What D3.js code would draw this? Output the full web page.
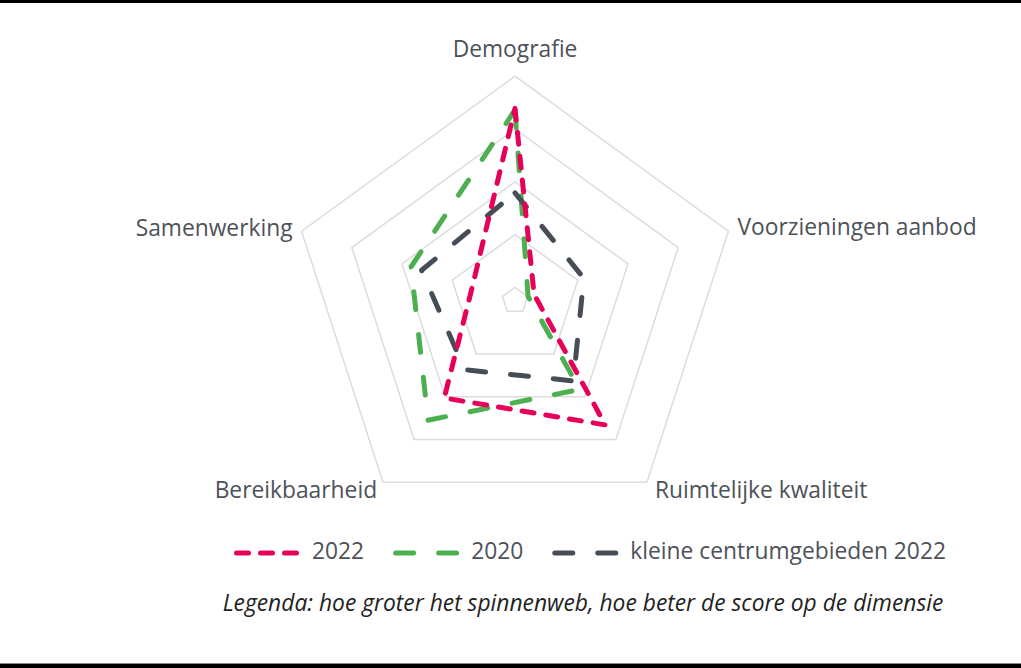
<!DOCTYPE html>
<html>
<head>
<meta charset="utf-8">
<script src="https://d3js.org/d3.v7.min.js"></script>
<style>
  body { margin: 0; background: #fff; }
  text { font-family: "Open Sans", "Noto Sans", sans-serif; fill: #4d5259; }
</style>
</head>
<body>
<svg width="1021" height="668"></svg>
<script>
// axes clockwise from the top
var axes   = ["Demografie", "Voorzieningen aanbod", "Ruimtelijke kwaliteit", "Bereikbaarheid", "Samenwerking"];
var s2022  = [4.39, 1.13, 3.66, 3.03, 1.60];
var s2020  = [4.36, 1.01, 2.83, 3.55, 2.82];
var kleine = [2.79, 2.12, 2.63, 2.37, 2.61];
var rings  = [1, 2, 3, 4, 5];
var legendLabels = ["2022", "2020", "kleine centrumgebieden 2022"];
var caption = "Legenda: hoe groter het spinnenweb, hoe beter de score op de dimensie";

var svg = d3.select("svg"),
    cx = 515, cy = 300.6,
    fs = "22.8px";

var r = d3.scaleLinear().domain([0.75, 5]).range([0, 224.4]);
var angle = d3.scaleLinear().domain([0, axes.length]).range([0, 2 * Math.PI]);

function pt(i, v) {
  var a = angle(i);
  return [cx + r(v) * Math.sin(a), cy - r(v) * Math.cos(a)];
}

// frame lines
svg.append("rect").attr("x", 0).attr("y", 0).attr("width", 1021).attr("height", 3).attr("fill", "#000");
svg.append("rect").attr("x", 0).attr("y", 663).attr("width", 1021).attr("height", 1).attr("fill", "#888");
svg.append("rect").attr("x", 0).attr("y", 664).attr("width", 1021).attr("height", 4).attr("fill", "#000");

var g = svg.append("g");
var line = d3.line().curve(d3.curveLinearClosed);

g.selectAll(".ring")
  .data(rings)
  .enter().append("path")
  .attr("class", "ring")
  .attr("d", function(v) { return line(axes.map(function(_, i) { return pt(i, v); })); })
  .attr("fill", "none")
  .attr("stroke", "#dcdcdc")
  .attr("stroke-width", 1.5);

var series = [
  { name: legendLabels[1], values: s2020,  color: "#4caf50", dash: "18,25" },
  { name: legendLabels[2], values: kleine, color: "#474d57", dash: "18,25" },
  { name: legendLabels[0], values: s2022,  color: "#e6005a", dash: "12,12" }
];

g.selectAll(".series")
  .data(series)
  .enter().append("path")
  .attr("class", "series")
  .attr("d", function(d) { return line(d.values.map(function(v, i) { return pt(i, v); })); })
  .attr("fill", "none")
  .attr("stroke", function(d) { return d.color; })
  .attr("stroke-width", 5)
  .attr("stroke-linecap", "round")
  .attr("stroke-linejoin", "round")
  .attr("stroke-dasharray", function(d) { return d.dash; });

// axis labels, placed just outside the outer ring
var labelMax = 5;
axes.forEach(function(name, i) {
  var p = pt(i, labelMax), t = g.append("text").text(name).style("font-size", fs);
  if (i === 0) {
    t.attr("x", p[0]).attr("y", p[1] - 19).attr("text-anchor", "middle");
  } else if (i === 1) {
    t.attr("x", p[0] + 9).attr("y", p[1] - 2).attr("text-anchor", "start").attr("dominant-baseline", "middle");
  } else if (i === 4) {
    t.attr("x", p[0] - 9).attr("y", p[1] - 1).attr("text-anchor", "end").attr("dominant-baseline", "middle");
  } else if (i === 2) {
    t.attr("x", p[0] + 8).attr("y", p[1] + 10).attr("text-anchor", "start").attr("dominant-baseline", "middle");
  } else {
    t.attr("x", p[0] - 6).attr("y", p[1] + 10).attr("text-anchor", "end").attr("dominant-baseline", "middle");
  }
});

// legend
var legendOrder = [series[2], series[0], series[1]];
var lx = 234, ly = 553;
legendOrder.forEach(function(d) {
  svg.append("line")
    .attr("x1", lx + 2.5).attr("x2", lx + 64).attr("y1", ly).attr("y2", ly)
    .attr("stroke", d.color).attr("stroke-width", 5)
    .attr("stroke-linecap", "round")
    .attr("stroke-dasharray", d.dash);
  var t = svg.append("text")
    .attr("x", lx + 78).attr("y", ly)
    .attr("dominant-baseline", "middle")
    .style("font-size", fs)
    .text(d.name);
  lx += 78 + t.node().getComputedTextLength() + 29;
});

svg.append("text")
  .attr("x", 583).attr("y", 605)
  .attr("text-anchor", "middle")
  .attr("dominant-baseline", "middle")
  .style("font-size", "22.8px")
  .style("font-style", "italic")
  .style("fill", "#222")
  .text(caption);
</script>
</body>
</html>
